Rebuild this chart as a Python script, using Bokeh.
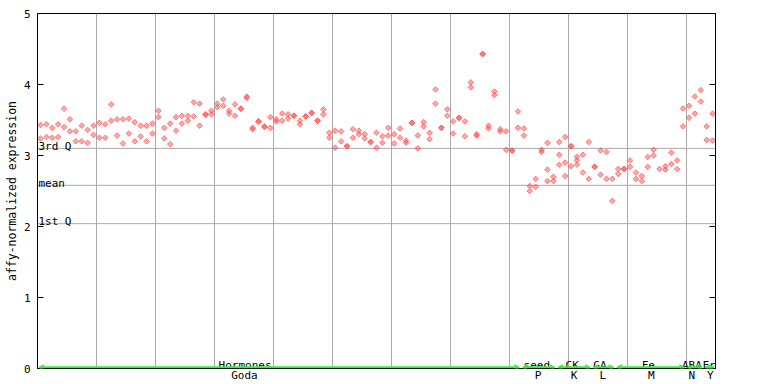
from bokeh.plotting import figure
from bokeh.models import (Range1d, LinearAxis, FixedTicker, Grid, Span,
                          ColumnDataSource, Arrow, OpenHead)
from bokeh.core.properties import value
from bokeh.embed import file_html
from bokeh.resources import INLINE

MONO = "DejaVu Sans Mono"
RED = "#ff5050"
GREEN = "#33ee33"
GRID = "#aaaaaa"

# ---- data: replicate values per sample, grouped by experiment ----
hormones_vals = [
    [3.43, 3.24], [3.44, 3.26], [3.39, 3.25], [3.44, 3.26], [3.66, 3.40],
    [3.51, 3.34], [3.34, 3.20], [3.42, 3.20], [3.36, 3.18], [3.42, 3.29],
    [3.46, 3.25], [3.44, 3.25], [3.72, 3.49], [3.51, 3.28], [3.51, 3.17],
    [3.52, 3.31], [3.47, 3.20], [3.42, 3.27], [3.42, 3.20], [3.45, 3.31],
    [3.63, 3.54], [3.39, 3.24], [3.45, 3.16], [3.54, 3.35], [3.56, 3.45],
    [3.56, 3.49], [3.75, 3.55], [3.73, 3.42], [3.58, 3.57], [3.63, 3.58],
    [3.73, 3.68], [3.79, 3.70], [3.63, 3.59], [3.72, 3.56], [3.66, 3.66],
    [3.83, 3.81], [3.39, 3.37], [3.48, 3.48], [3.41, 3.40], [3.54, 3.39],
    [3.51, 3.48], [3.59, 3.49], [3.58, 3.52], [3.56, 3.56], [3.49, 3.44],
    [3.55, 3.55], [3.60, 3.60], [3.49, 3.49], [3.65, 3.58], [3.32, 3.25],
    [3.35, 3.11], [3.34, 3.20], [3.13, 3.13], [3.37, 3.25], [3.35, 3.30],
    [3.30, 3.24], [3.19, 3.19], [3.32, 3.11], [3.27, 3.18], [3.39, 3.28],
    [3.30, 3.17], [3.38, 3.25], [3.21, 3.18], [3.46, 3.46], [3.28, 3.10],
    [3.47, 3.41], [3.32, 3.23], [3.93, 3.73], [3.39, 3.39], [3.65, 3.56],
    [3.48, 3.31], [3.53, 3.53], [3.48, 3.27], [4.03, 3.96], [3.30, 3.28],
    [4.43, 4.43], [3.42, 3.38], [3.90, 3.85], [3.37, 3.34], [3.34, 3.08],
    [3.07, 3.07], [3.62, 3.39],
]
seed_vals = [[3.38, 3.28], [2.57, 2.50], [2.67, 2.56], [3.08, 3.05],
             [3.18, 2.80, 2.64], [2.70, 2.64]]
ck_vals = [[3.19, 3.01, 2.87], [3.26, 2.90, 2.71], [3.13, 3.13, 2.85],
           [2.98, 2.93, 2.87], [3.01, 2.76], [3.19, 2.67]]
ga_vals = [[2.84, 2.84], [3.07, 2.73], [3.05, 2.67], [2.67, 2.36]]
fe_vals = [[2.81, 2.74], [2.81, 2.81], [2.93, 2.84], [2.76, 2.67],
           [2.71, 2.64], [2.98, 2.84], [3.08, 3.00], [2.81],
           [2.85, 2.80], [3.04, 2.88], [2.93, 2.81], [3.66, 3.41]]
aba_vals = [[3.70, 3.53], [3.83, 3.59], [3.92, 3.76]]
fr_vals = [[3.41, 3.22], [3.59, 3.21]]

group_top = ["Hormones", "seed", "CK", "GA", "Fe", "ABA", "Fr"]
group_bottom = ["Goda", "P", "K", "L", "M", "N", "Y"]
top_label_x = [35.2, 84.7, 90.7, 95.4, 103.6, 111.0, 113.9]
bottom_label_x = [35.1, 84.9, 91.0, 95.9, 104.1, 111.0, 114.1]

q3_val, mean_val, q1_val = 3.10, 2.58, 2.04
y_ticks = [0, 1, 2, 3, 4, 5]

groups = [hormones_vals, seed_vals, ck_vals, ga_vals, fe_vals, aba_vals, fr_vals]

# ---- build point table ----
xs, ys = [], []
starts, ends = [], []
idx = 0
for g in groups:
    starts.append(idx)
    for reps in g:
        for v in reps:
            xs.append(idx + 0.5)
            ys.append(v)
        idx += 1
    ends.append(idx)
n_samples = idx

p = figure(width=768, height=384, x_range=Range1d(0, n_samples), y_range=Range1d(0, 5),
           output_backend="svg", toolbar_location=None, x_axis_location=None,
           min_border_left=37, min_border_right=53, min_border_top=13, min_border_bottom=15)
p.outline_line_color = "black"
p.outline_line_width = 1
p.grid.visible = False
p.background_fill_color = "white"
p.border_fill_color = "white"

# left axis
ya = p.yaxis[0]
ya.ticker = FixedTicker(ticks=y_ticks)
ya.major_tick_in = 6
ya.major_tick_out = 0
ya.minor_tick_in = 0
ya.minor_tick_out = 0
ya.axis_line_color = "black"
ya.major_tick_line_color = "black"
ya.major_label_text_font = MONO
ya.major_label_text_font_size = "11px"
ya.major_label_text_color = "black"
ya.major_label_standoff = 7
ya.axis_label = "affy-normalized expression"
ya.axis_label_text_font = MONO
ya.axis_label_text_font_size = "11.5px"
ya.axis_label_text_font_style = "normal"
ya.axis_label_text_color = "black"
ya.axis_label_standoff = 2

# right axis (ticks only)
ra = LinearAxis(ticker=FixedTicker(ticks=y_ticks), major_tick_in=6, major_tick_out=0,
                minor_tick_in=0, minor_tick_out=0, axis_line_color="black",
                major_tick_line_color="black", major_label_text_alpha=0,
                major_label_standoff=0, major_label_text_font_size="11px")
p.add_layout(ra, "right")

# bottom axis carrying the sub-labels
ba = LinearAxis(ticker=FixedTicker(ticks=bottom_label_x),
                major_label_overrides={x: t for x, t in zip(bottom_label_x, group_bottom)},
                major_tick_in=0, major_tick_out=0, minor_tick_in=0, minor_tick_out=0,
                axis_line_color="black", major_label_standoff=0,
                major_label_text_font=MONO, major_label_text_font_size="11px",
                major_label_text_color="black")
p.add_layout(ba, "below")

# vertical grid every 10 samples
p.add_layout(Grid(dimension=0, ticker=FixedTicker(ticks=list(range(10, n_samples, 10))),
                  grid_line_color=GRID, grid_line_width=1), "center")

# quartile lines
for v in (q3_val, mean_val, q1_val):
    p.add_layout(Span(location=v, dimension="width", line_color=GRID, line_width=1,
                      level="underlay"))

p.text(x=[0.15] * 3, y=[q3_val, mean_val, q1_val], text=["3rd Q", "mean", "1st Q"],
       text_font=value(MONO), text_font_size="11px", text_color="black",
       text_baseline="alphabetic", text_align="left", y_offset=-2)

# points
p.scatter(xs, ys, marker="square", angle=0.785398, size=4, fill_color=RED, fill_alpha=0.5,
          line_color=RED, line_alpha=0.65, line_width=1)

# group arrows
asrc = ColumnDataSource(dict(x0=[s + 0.3 for s in starts], x1=[e - 0.3 for e in ends],
                             y=[0.016] * len(starts)))
p.add_layout(Arrow(start=OpenHead(size=5, line_color=GREEN, line_width=1.5),
                   end=OpenHead(size=5, line_color=GREEN, line_width=1.5),
                   x_start="x0", y_start="y", x_end="x1", y_end="y", source=asrc,
                   line_color=GREEN, line_width=2))

# group labels above the arrows
p.text(x=top_label_x, y=[0] * len(group_top), text=group_top, text_font=value(MONO),
       text_font_size="11px", text_color="black", text_align="center",
       text_baseline="alphabetic", y_offset=-3)

open("out.html", "w").write(file_html(p, INLINE))
